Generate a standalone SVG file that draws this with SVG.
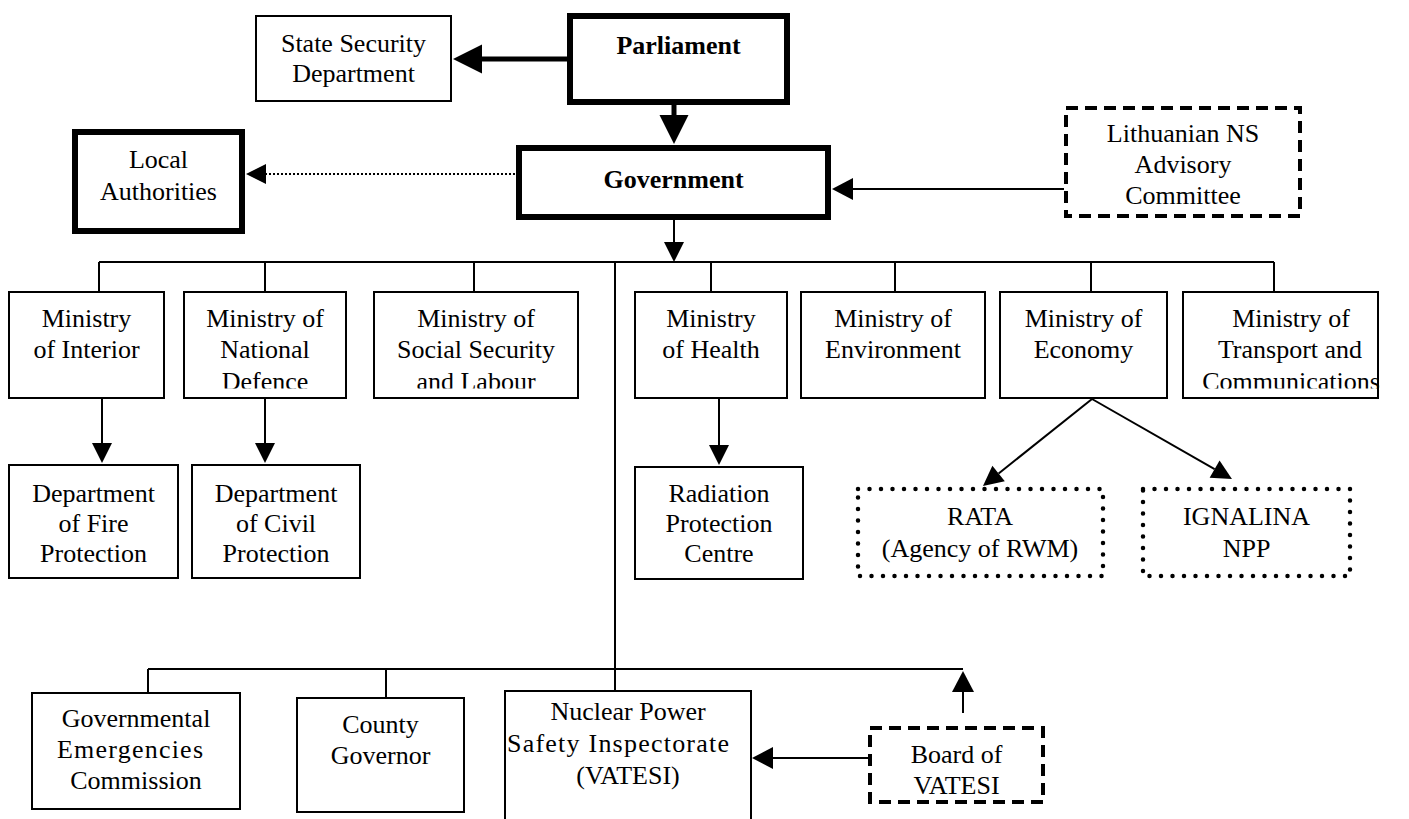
<svg xmlns="http://www.w3.org/2000/svg" width="1409" height="819" viewBox="0 0 1409 819">
<style>
  text { font-family: "Liberation Serif", "Times New Roman", serif; font-size: 26px; fill: #000; text-anchor: middle; }
  .b { font-weight: bold; }
  .box { fill: #fff; stroke: #000; stroke-width: 2; }
  .thick { fill: #fff; stroke: #000; stroke-width: 6; }
  .dash { fill: #fff; stroke: #000; stroke-width: 4; stroke-dasharray: 12 7; }
  .dot { fill: #fff; stroke: #000; stroke-width: 4.5; stroke-dasharray: 0 11.5; stroke-linecap: round; }
  .ln { fill: none; stroke: #000; stroke-width: 2; }
  .tk { fill: none; stroke: #000; stroke-width: 5; }
  .dl { fill: none; stroke: #000; stroke-width: 2; stroke-dasharray: 2 2; }
  .clipm { clip-path: url(#clipMin); }
</style>
<defs>
  <marker id="ah" markerUnits="userSpaceOnUse" markerWidth="22" markerHeight="22" refX="0" refY="10" orient="auto" overflow="visible">
    <path d="M0,0 L20,10 L0,20 z" fill="#000"/>
  </marker>
  <marker id="ah11" markerUnits="userSpaceOnUse" markerWidth="23" markerHeight="23" refX="0" refY="11" orient="auto" overflow="visible">
    <path d="M0,0 L21,11 L0,22 z" fill="#000"/>
  </marker>
  <marker id="ahBig" markerUnits="userSpaceOnUse" markerWidth="31" markerHeight="31" refX="0" refY="14.5" orient="auto" overflow="visible">
    <path d="M0,0 L29,14.5 L0,29 z" fill="#000"/>
  </marker>
  <clipPath id="clipMin"><rect x="0" y="0" width="1409" height="388.5"/></clipPath>
</defs>

<g id="connectors">
  <!-- Parliament -> State Security Department -->
  <line class="tk" x1="567" y1="59" x2="482" y2="59" marker-end="url(#ahBig)"/>
  <!-- Parliament -> Government -->
  <line class="tk" x1="674" y1="105" x2="674" y2="115" marker-end="url(#ahBig)"/>
  <!-- Government -> Local Authorities (dotted) -->
  <line class="dl" x1="515" y1="174" x2="266" y2="174" marker-end="url(#ah)"/>
  <!-- Lithuanian NS Advisory Committee -> Government -->
  <line class="ln" x1="1064" y1="189" x2="853" y2="189" marker-end="url(#ah11)"/>
  <!-- Government -> ministries bus -->
  <line class="ln" x1="674" y1="220" x2="674" y2="242" marker-end="url(#ah)"/>
  <path class="ln" d="M99,262 H1274 M99,262 V292 M265,262 V292 M474,262 V292 M711,262 V292 M895,262 V292 M1091,262 V292 M1274,262 V292"/>
  <!-- central trunk down to lower bus -->
  <path class="ln" d="M615,262 V691"/>
  <!-- lower bus -->
  <path class="ln" d="M148,669 H963 M148,669 V693 M386,669 V698"/>
  <!-- ministry -> departments -->
  <line class="ln" x1="102" y1="399" x2="102" y2="443" marker-end="url(#ah)"/>
  <line class="ln" x1="265" y1="399" x2="265" y2="443" marker-end="url(#ah)"/>
  <line class="ln" x1="719" y1="399" x2="719" y2="445" marker-end="url(#ah)"/>
  <!-- Ministry of Economy -> RATA, IGNALINA -->
  <line class="ln" x1="1092" y1="399" x2="998.6" y2="473.5" marker-end="url(#ah)"/>
  <line class="ln" x1="1092" y1="399" x2="1214.6" y2="469.1" marker-end="url(#ah)"/>
  <!-- Board of VATESI -> lower bus (up) -->
  <line class="ln" x1="963" y1="713" x2="963" y2="692" marker-end="url(#ah11)"/>
  <!-- Board of VATESI -> VATESI -->
  <line class="ln" x1="868" y1="758" x2="773" y2="758" marker-end="url(#ah11)"/>
</g>

<g id="state-security">
  <rect class="box" x="256" y="16" width="195" height="85"/>
  <text x="353.5" y="52">State Security</text>
  <text x="353.5" y="82">Department</text>
</g>
<g id="parliament">
  <rect class="thick" x="570" y="16" width="217" height="86"/>
  <text class="b" x="678.5" y="54">Parliament</text>
</g>
<g id="local-authorities">
  <rect class="thick" x="75" y="132" width="167" height="99"/>
  <text x="158.5" y="168">Local</text>
  <text x="158.5" y="200">Authorities</text>
</g>
<g id="government">
  <rect class="thick" x="519" y="148" width="309" height="69"/>
  <text class="b" x="673.5" y="188">Government</text>
</g>
<g id="ns-advisory">
  <rect class="dash" x="1066" y="108" width="234" height="108"/>
  <text x="1183" y="142">Lithuanian NS</text>
  <text x="1183" y="173">Advisory</text>
  <text x="1183" y="204">Committee</text>
</g>

<g id="min-interior">
  <rect class="box" x="9" y="292" width="155" height="106"/>
  <text class="clipm" x="86.5" y="327">Ministry</text>
  <text class="clipm" x="86.5" y="358">of Interior</text>
</g>
<g id="min-defence">
  <rect class="box" x="184" y="292" width="162" height="106"/>
  <text class="clipm" x="265" y="327">Ministry of</text>
  <text class="clipm" x="265" y="358">National</text>
  <text class="clipm" x="265" y="390">Defence</text>
</g>
<g id="min-social">
  <rect class="box" x="374" y="292" width="204" height="106"/>
  <text class="clipm" x="476" y="327">Ministry of</text>
  <text class="clipm" x="476" y="358">Social Security</text>
  <text class="clipm" x="476" y="390">and Labour</text>
</g>
<g id="min-health">
  <rect class="box" x="635" y="292" width="152" height="106"/>
  <text class="clipm" x="711" y="327">Ministry</text>
  <text class="clipm" x="711" y="358">of Health</text>
</g>
<g id="min-environment">
  <rect class="box" x="801" y="292" width="184" height="106"/>
  <text class="clipm" x="893" y="327">Ministry of</text>
  <text class="clipm" x="893" y="358">Environment</text>
</g>
<g id="min-economy">
  <rect class="box" x="1000" y="292" width="167" height="106"/>
  <text class="clipm" x="1083.5" y="327">Ministry of</text>
  <text class="clipm" x="1083.5" y="358">Economy</text>
</g>
<g id="min-transport">
  <rect class="box" x="1183" y="292" width="195" height="106"/>
  <text class="clipm" x="1291" y="327">Ministry of</text>
  <text class="clipm" x="1290" y="358">Transport and</text>
  <text class="clipm" x="1291" y="390">Communications</text>
</g>

<g id="dept-fire">
  <rect class="box" x="9" y="465" width="169" height="113"/>
  <text x="93.5" y="502">Department</text>
  <text x="93.5" y="532">of Fire</text>
  <text x="93.5" y="562">Protection</text>
</g>
<g id="dept-civil">
  <rect class="box" x="192" y="465" width="168" height="113"/>
  <text x="276" y="502">Department</text>
  <text x="276" y="532">of Civil</text>
  <text x="276" y="562">Protection</text>
</g>
<g id="radiation">
  <rect class="box" x="635" y="467" width="168" height="112"/>
  <text x="719" y="502">Radiation</text>
  <text x="719" y="532">Protection</text>
  <text x="719" y="562">Centre</text>
</g>
<g id="rata">
  <rect class="dot" x="858" y="489" width="245" height="87"/>
  <text x="980" y="525">RATA</text>
  <text x="980" y="557">(Agency of RWM)</text>
</g>
<g id="ignalina">
  <rect class="dot" x="1143" y="489" width="207" height="87"/>
  <text x="1246.5" y="525">IGNALINA</text>
  <text x="1246.5" y="557">NPP</text>
</g>

<g id="emergencies">
  <rect class="box" x="32" y="693" width="208" height="116"/>
  <text x="136" y="727">Governmental</text>
  <text x="130" y="758" textLength="146" lengthAdjust="spacing">Emergencies</text>
  <text x="136" y="789">Commission</text>
</g>
<g id="county">
  <rect class="box" x="297" y="698" width="167" height="114"/>
  <text x="380.5" y="733">County</text>
  <text x="380.5" y="764">Governor</text>
</g>
<g id="vatesi">
  <path d="M505,830 V691 H751 V830" fill="#fff" stroke="#000" stroke-width="2"/>
  <text x="628" y="720">Nuclear Power</text>
  <text x="618" y="752" textLength="222" lengthAdjust="spacing">Safety Inspectorate</text>
  <text x="628" y="784">(VATESI)</text>
</g>
<g id="board-vatesi">
  <rect class="dash" x="870" y="728" width="173" height="74"/>
  <text x="956.5" y="763">Board of</text>
  <text x="956.5" y="794">VATESI</text>
</g>
</svg>
